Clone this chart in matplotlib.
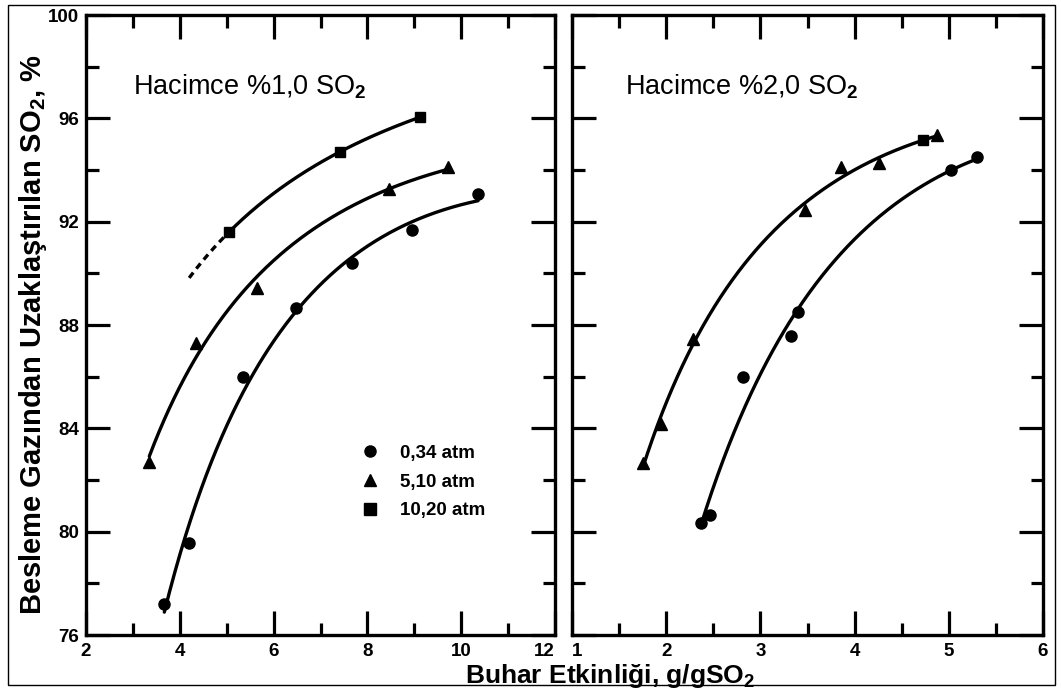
import numpy as np
import matplotlib
matplotlib.use('Agg')
import matplotlib.pyplot as plt
from matplotlib.patches import Rectangle
from matplotlib.lines import Line2D
from matplotlib.ticker import MultipleLocator

plt.rcParams['font.family'] = ['Liberation Sans', 'DejaVu Sans']
plt.rcParams['font.weight'] = 'bold'
plt.rcParams['mathtext.fontset'] = 'custom'
plt.rcParams['mathtext.rm'] = 'Liberation Sans'
plt.rcParams['mathtext.bf'] = 'Liberation Sans:bold'
plt.rcParams['mathtext.default'] = 'rm'

# ---------------- data ----------------
# Left panel: Hacimce %1,0 SO2
l_x_034 = [3.67, 4.20, 5.35, 6.48, 7.68, 8.95, 10.36]
l_y_034 = [77.2, 79.55, 86.0, 88.67, 90.4, 91.66, 93.07]
l_x_510 = [3.35, 4.34, 5.64, 8.47, 9.71]
l_y_510 = [82.7, 87.3, 89.45, 93.26, 94.1]
l_x_1020 = [5.05, 7.41, 9.13]
l_y_1020 = [91.6, 94.7, 96.05]
l_dash_start = 4.2   # extrapolated (dashed) part of the 10,20 atm curve

# Right panel: Hacimce %2,0 SO2
r_x_034 = [2.37, 2.47, 2.81, 3.33, 3.40, 5.02, 5.30]
r_y_034 = [80.35, 80.64, 86.0, 87.56, 88.5, 94.0, 94.5]
r_x_510 = [1.75, 1.95, 2.28, 3.47, 3.86, 4.26, 4.88]
r_y_510 = [82.65, 84.15, 87.45, 92.46, 94.13, 94.26, 95.35]
r_x_1020 = [4.73]
r_y_1020 = [95.15]

series_labels = ['0,34 atm', '5,10 atm', '10,20 atm']
markers = ['o', '^', 's']
left_xticks = [2, 4, 6, 8, 10, 12]
right_xticks = [1, 2, 3, 4, 5, 6]
yticks = [76, 80, 84, 88, 92, 96, 100]
panel_titles = [r'Hacimce %1,0 SO$_\mathrm{2}$', r'Hacimce %2,0 SO$_\mathrm{2}$']
xlabel = r'Buhar Etkinliği, g/gSO$_\mathbf{2}$'
ylabel = r'Besleme Gazından Uzaklaştırılan SO$_\mathbf{2}$, %'

# ---------------- figure ----------------
W, H = 1061, 688
fig = plt.figure(figsize=(W / 100, H / 100), dpi=100)
axL = fig.add_axes([86 / W, (H - 635) / H, 469 / W, 620 / H])
axR = fig.add_axes([572 / W, (H - 635) / H, 471 / W, 620 / H])


def fit_curve(x, y, deg, x0=None, x1=None, n=300):
    c = np.polyfit(np.log(x), y, deg)
    x0 = min(x) if x0 is None else x0
    x1 = max(x) if x1 is None else x1
    xs = np.linspace(x0, x1, n)
    return xs, np.polyval(c, np.log(xs))


LW = 2.4
MS = 8

# left panel
for xs_, ys_, deg in [(l_x_034, l_y_034, 2), (l_x_510, l_y_510, 2), (l_x_1020, l_y_1020, 2)]:
    cx, cy = fit_curve(xs_, ys_, deg)
    axL.plot(cx, cy, color='black', lw=LW, solid_capstyle='round')
cx, cy = fit_curve(l_x_1020, l_y_1020, 2, x0=l_dash_start, x1=min(l_x_1020))
axL.plot(cx, cy, color='black', lw=LW, ls=(0, (2.0, 1.5)))
axL.plot(l_x_034, l_y_034, 'o', color='black', ms=MS)
axL.plot(l_x_510, l_y_510, '^', color='black', ms=MS)
axL.plot(l_x_1020, l_y_1020, 's', color='black', ms=MS - 1.5)

# right panel
for xs_, ys_, deg in [(r_x_034, r_y_034, 2), (r_x_510, r_y_510, 2)]:
    cx, cy = fit_curve(xs_, ys_, deg)
    axR.plot(cx, cy, color='black', lw=LW, solid_capstyle='round')
axR.plot(r_x_034, r_y_034, 'o', color='black', ms=MS)
axR.plot(r_x_510, r_y_510, '^', color='black', ms=MS)
axR.plot(r_x_1020, r_y_1020, 's', color='black', ms=MS - 1.5)

for ax, xt, title in [(axL, left_xticks, panel_titles[0]), (axR, right_xticks, panel_titles[1])]:
    ax.set_xlim(xt[0], xt[-1])
    ax.set_ylim(yticks[0], yticks[-1])
    ax.set_xticks(xt)
    ax.set_yticks(yticks)
    step = xt[1] - xt[0]
    ax.xaxis.set_minor_locator(MultipleLocator(step / 2))
    ax.yaxis.set_minor_locator(MultipleLocator(2))
    ax.tick_params(which='major', direction='in', length=17, width=2.3,
                   top=True, right=True, labelsize=13.5, pad=5)
    ax.tick_params(axis='x', which='major', pad=6)
    ax.tick_params(which='minor', direction='in', length=9, width=2.3,
                   top=True, right=True)
    for s in ax.spines.values():
        s.set_linewidth(2.4)
    ax.text(0.10 if ax is axL else 0.1125, 0.871, title, transform=ax.transAxes,
            fontsize=19.5, fontweight='normal', va='baseline', ha='left')

axR.tick_params(labelleft=False)
fig.canvas.draw()
axL.get_xticklabels()[-1].set_ha('right')
axR.get_xticklabels()[0].set_ha('left')

handles = [Line2D([], [], ls='none', marker=m, color='black', ms=MS) for m in markers]
axL.legend(handles, series_labels, loc='upper left', bbox_to_anchor=(0.545, 0.334),
           frameon=False, fontsize=13.5, handletextpad=1.0, labelspacing=0.62,
           handlelength=1.2)

fig.text(610 / W, (H - 683) / H, xlabel, ha='center', va='baseline', fontsize=19)
fig.text(33 / W, (H - 335) / H, ylabel, ha='center', va='center', rotation=90, fontsize=21)

fig.add_artist(Rectangle((8 / W, (H - 685) / H), (1055 - 8) / W, (685 - 5) / H,
                         transform=fig.transFigure, fill=False, lw=1, ec='black'))

fig.savefig('out.png', dpi=100)
